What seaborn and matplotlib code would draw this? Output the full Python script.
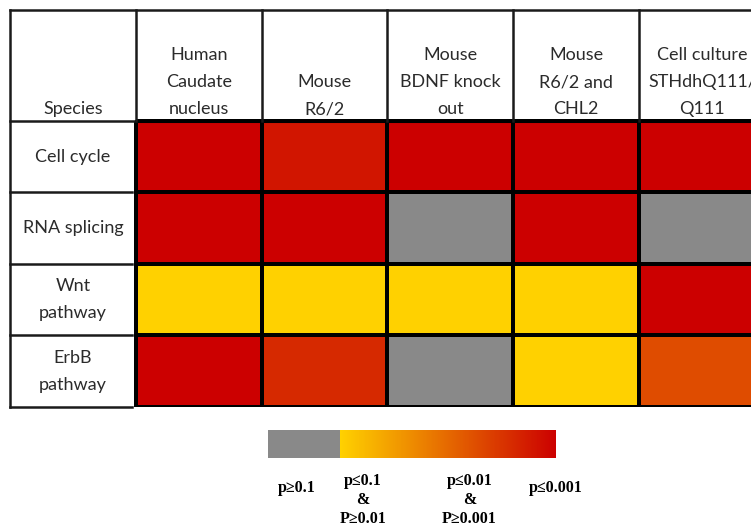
import numpy as np
import pandas as pd
import seaborn as sns
import matplotlib
import matplotlib.pyplot as plt
from matplotlib.colors import LinearSegmentedColormap

matplotlib.use("agg")

# data
pathways = ["Cell cycle", "RNA splicing", "Wnt\npathway", "ErbB\npathway"]
species = [
    "Human\nCaudate\nnucleus",
    "Mouse\nR6/2",
    "Mouse\nBDNF knock\nout",
    "Mouse\nR6/2 and\nCHL2",
    "Cell culture\nSTHdhQ111/\nQ111",
]
# significance score: 0-1 = p>=0.1 (grey), 1 = p~0.1, 4 = p<=0.001
cell_cycle = [4.0, 3.7, 4.0, 4.0, 4.0]
rna_splicing = [4.0, 4.0, 0.5, 4.0, 0.5]
wnt_pathway = [1.0, 1.0, 1.0, 1.0, 4.0]
erbb_pathway = [4.0, 3.4, 0.5, 1.0, 2.9]
legend_labels = ["p≥0.1", "p≤0.1\n&\nP≥0.01", "p≤0.01\n&\nP≥0.001", "p≤0.001"]
legend_pos = [0.10, 0.33, 0.70, 1.00]

df = pd.DataFrame(
    [cell_cycle, rna_splicing, wnt_pathway, erbb_pathway],
    index=pathways,
    columns=species,
)

grey, yellow, red = (0.537, 0.537, 0.537), (1.0, 0.82, 0.0), (0.80, 0.0, 0.0)
cdict = {
    ch: [(0.0, grey[i], grey[i]), (0.25, grey[i], yellow[i]), (1.0, red[i], red[i])]
    for i, ch in enumerate(["red", "green", "blue"])
}
cmap = LinearSegmentedColormap("pvals", cdict, N=512)

fig = plt.figure(figsize=(7.51, 5.26), dpi=100)
ax = fig.add_axes([10 / 751, 119 / 526, 741 / 751, 397 / 526])
cax = fig.add_axes([268 / 751, 68 / 526, 288 / 751, 28 / 526])

sns.heatmap(
    df,
    ax=ax,
    cmap=cmap,
    vmin=0,
    vmax=4,
    linewidths=1.6,
    linecolor="black",
    cbar_ax=cax,
    cbar_kws={"orientation": "horizontal"},
)

nrows, ncols = df.shape
hdr = 1.55
ax.set_xlim(-1, 4.89)
ax.set_ylim(nrows, -hdr)
ax.axis("off")

# table grid for header row and label column
lc = "#1a1a1a"
ax.plot([-1, ncols], [-hdr, -hdr], color=lc, lw=1.8, clip_on=False)
ax.plot([-1, 0], [0, 0], color=lc, lw=1.8, clip_on=False)
ax.plot([0, ncols], [0, 0], color="black", lw=2.2, clip_on=False)
ax.plot([-1, -1], [-hdr, nrows], color=lc, lw=1.8, clip_on=False)
for i in range(ncols + 1):
    ax.plot([i, i], [-hdr, 0], color=lc, lw=1.8, clip_on=False)
for j in range(1, nrows + 1):
    ax.plot([-1, -0.03], [j, j], color=lc, lw=1.8, clip_on=False)

font = ["Lato", "DejaVu Sans"]
tc = "#2b2b2b"
ax.text(-0.5, -0.05, "Species", ha="center", va="bottom", fontsize=13,
        family=font, color=tc)
for i, name in enumerate(species):
    ax.text(i + 0.5, -0.05, name, ha="center", va="bottom", fontsize=13,
            family=font, color=tc, linespacing=1.85, clip_on=True)
for j, name in enumerate(pathways):
    ax.text(-0.5, j + 0.5, name, ha="center", va="center", fontsize=13,
            family=font, color=tc, linespacing=1.85)

# legend bar
cax.set_xticks([])
cax.set_yticks([])
for s in cax.spines.values():
    s.set_visible(False)
cbar = ax.collections[0].colorbar
cbar.outline.set_visible(False)
for lab, x in zip(legend_labels, legend_pos):
    off = -0.55 if "\n" in lab else -0.78
    cax.text(x, off, lab, transform=cax.transAxes, ha="center", va="top",
             fontsize=11.5, fontweight="bold", family=["Liberation Serif", "DejaVu Serif"],
             linespacing=1.22)

fig.savefig("out.png", dpi=100)
